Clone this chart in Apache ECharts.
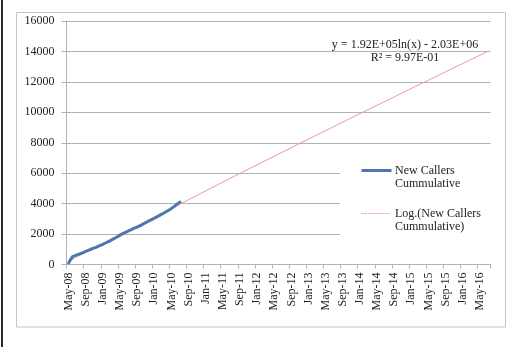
<!DOCTYPE html>
<html>
<head>
<meta charset="utf-8">
<style>
  html, body { margin: 0; padding: 0; background: #ffffff; }
  #chart { width: 529px; height: 347px; }
</style>
<script src="https://cdn.jsdelivr.net/npm/echarts@6/dist/echarts.min.js"></script>
</head>
<body>
<div id="chart"></div>
<script>
// Month axis runs from May 2008 to July 2016, one category per month.
const monthNames = ['Jan', 'Feb', 'Mar', 'Apr', 'May', 'Jun', 'Jul', 'Aug', 'Sep', 'Oct', 'Nov', 'Dec'];
const firstMonth = { year: 2008, month: 4 };   // May-08
const monthCount = 99;                          // through Jul-16

// Cumulative count of new callers, one value per month from May-08 to Jul-10.
const newCallersCumulative = [
  100, 530, 640, 740, 860, 980, 1090, 1210, 1330, 1460,
  1610, 1760, 1930, 2080, 2210, 2340, 2460, 2590, 2750, 2900,
  3040, 3190, 3340, 3510, 3680, 3890, 4100
];

// Logarithmic trend line, sampled at [month index, value].
const logTrend = [
  [0, 230], [26, 3970], [40, 5990], [54, 7960], [68, 9910], [82, 11840], [98, 14020]
];

const trendEquation = 'y = 1.92E+05ln(x) - 2.03E+06';
const trendR2 = 'R² = 9.97E-01';

const seriesNames = ['New Callers\nCummulative', 'Log.(New Callers\nCummulative)'];

const categories = [];
for (let i = 0; i < monthCount; i++) {
  const m = firstMonth.month + i;
  const y = firstMonth.year + Math.floor(m / 12);
  categories.push(monthNames[m % 12] + '-' + String(y % 100).padStart(2, '0'));
}

const FONT = '"Liberation Serif", "DejaVu Serif", serif';
const BLUE = '#4f77ad';
const PINK = '#f09a9a';
const GRID = '#b3b3b3';

const chart = echarts.init(document.getElementById('chart'), null, { renderer: 'canvas' });

chart.setOption({
  animation: false,
  backgroundColor: '#ffffff',
  grid: { left: 66.5, right: 38.5, top: 21, bottom: 82.5, containLabel: false },
  xAxis: {
    type: 'category',
    data: categories,
    boundaryGap: true,
    axisLine: { show: true, lineStyle: { color: GRID, width: 1 } },
    axisTick: { show: true, interval: 3, length: 4, lineStyle: { color: GRID } },
    axisLabel: {
      interval: 3, rotate: 90, margin: 8,
      fontFamily: FONT, fontSize: 12, color: '#222'
    },
    splitLine: { show: false }
  },
  yAxis: {
    type: 'value',
    min: 0, max: 16000, interval: 2000,
    axisLine: { show: true, lineStyle: { color: GRID, width: 1 } },
    axisTick: { show: true, length: 5, lineStyle: { color: GRID } },
    axisLabel: {
      margin: 12, fontFamily: FONT, fontSize: 12, color: '#222',
      formatter: (v) => String(v)
    },
    splitLine: { show: true, lineStyle: { color: GRID, width: 1 } }
  },
  series: [
    {
      name: seriesNames[1],
      type: 'line',
      data: logTrend,
      symbol: 'none',
      lineStyle: { color: PINK, width: 1 },
      z: 2
    },
    {
      name: seriesNames[0],
      type: 'line',
      data: newCallersCumulative,
      symbol: 'none',
      smooth: 0.2,
      lineStyle: { color: BLUE, width: 3, cap: 'round', join: 'round' },
      z: 3
    }
  ],
  graphic: [
    // dark rule along the left edge of the page
    { type: 'rect', left: 1, top: 0, shape: { width: 2, height: 347 }, style: { fill: '#2a2a2a' }, silent: true },
    // chart frame
    { type: 'rect', shape: { x: 16.5, y: 12.5, width: 489, height: 314.5 },
      style: { fill: null, stroke: '#c6c6c6', lineWidth: 1 }, silent: true },
    // trend line equation
    { type: 'text', x: 405, y: 45, style: { text: trendEquation, font: '12px ' + FONT, fill: '#222', align: 'center', verticalAlign: 'middle' } },
    { type: 'text', x: 405, y: 58, style: { text: trendR2, font: '12px ' + FONT, fill: '#222', align: 'center', verticalAlign: 'middle' } },
    // legend panel
    { type: 'rect', shape: { x: 340, y: 152, width: 160, height: 96 }, style: { fill: '#ffffff' }, z: 10 },
    { type: 'line', shape: { x1: 361.5, y1: 170.5, x2: 391.5, y2: 170.5 }, style: { stroke: BLUE, lineWidth: 3 }, z: 11 },
    { type: 'text', x: 395, y: 164, z: 11,
      style: { text: seriesNames[0], font: '12px ' + FONT, fill: '#222', lineHeight: 13.5 } },
    { type: 'line', shape: { x1: 361.5, y1: 213.5, x2: 389.5, y2: 213.5 }, style: { stroke: PINK, lineWidth: 1, lineDash: [2, 1] }, z: 11 },
    { type: 'text', x: 395, y: 207, z: 11,
      style: { text: seriesNames[1], font: '12px ' + FONT, fill: '#222', lineHeight: 13.5 } }
  ]
});
</script>
</body>
</html>
